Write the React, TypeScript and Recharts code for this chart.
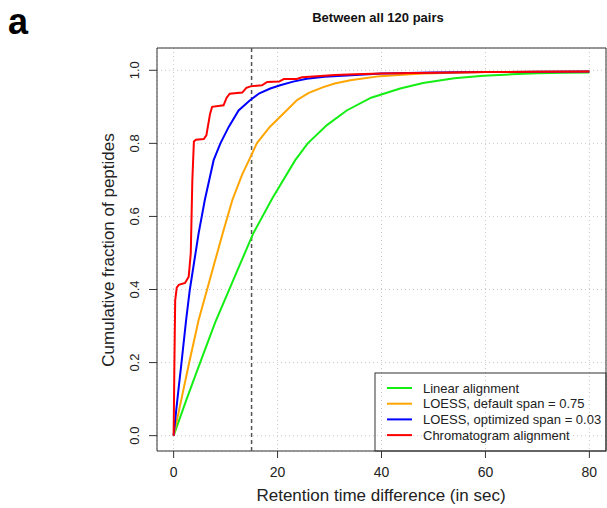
import React from "react";
import {
  LineChart,
  Line,
  XAxis,
  YAxis,
  CartesianGrid,
  ReferenceLine,
  ReferenceArea,
} from "recharts";

// retention time difference (sec) vs cumulative fraction of peptides
const linearT = [0, 2.5, 5.1, 8, 11, 15.3, 19, 23.4, 25.8, 29.5, 33.3, 38, 43.6, 48, 54, 59.6, 65, 70, 75, 80];
const linearP = [0, 0.1, 0.2, 0.31, 0.41, 0.553, 0.65, 0.754, 0.8, 0.85, 0.89, 0.925, 0.95, 0.965, 0.978, 0.985, 0.989, 0.992, 0.993, 0.994];

const loessDefT = [0, 1.5, 3, 4.8, 6.4, 8, 9.5, 11.3, 13.2, 15.1, 16, 18.5, 20.8, 23.7, 26, 28.8, 31, 34, 39.7, 44, 48, 54, 60, 70, 80];
const loessDefP = [0, 0.1, 0.2, 0.316, 0.398, 0.48, 0.557, 0.645, 0.715, 0.772, 0.8, 0.845, 0.877, 0.918, 0.938, 0.954, 0.964, 0.973, 0.984, 0.988, 0.991, 0.993, 0.995, 0.996, 0.997];

const loessOptT = [0, 0.5, 1, 1.5, 2.4, 3.1, 4, 4.8, 6, 7.7, 9, 10.6, 12.5, 14.7, 16.5, 18.6, 20.5, 23, 25.6, 29, 33.3, 40, 50, 60, 70, 80];
const loessOptP = [0, 0.07, 0.135, 0.198, 0.316, 0.398, 0.48, 0.553, 0.645, 0.754, 0.8, 0.845, 0.89, 0.918, 0.937, 0.95, 0.959, 0.969, 0.977, 0.982, 0.986, 0.991, 0.994, 0.995, 0.996, 0.997];

const chromT = [0, 0.15, 0.3, 0.6, 1, 2.2, 2.9, 3.3, 3.6, 3.9, 4.3, 5.8, 6.3, 7, 7.4, 9.6, 10.2, 10.8, 13.2, 14, 14.8, 17, 18, 20.3, 21.2, 23.7, 24.7, 27.6, 31, 35, 40, 50, 60, 70, 80];
const chromP = [0, 0.2, 0.37, 0.405, 0.413, 0.418, 0.435, 0.5, 0.7, 0.805, 0.81, 0.812, 0.822, 0.88, 0.9, 0.904, 0.925, 0.936, 0.939, 0.952, 0.956, 0.959, 0.968, 0.969, 0.976, 0.976, 0.981, 0.984, 0.987, 0.989, 0.991, 0.993, 0.995, 0.996, 0.997];

const seriesNames = [
  "Linear alignment",
  "LOESS, default span = 0.75",
  "LOESS, optimized span = 0.03",
  "Chromatogram alignment",
];
const seriesColors = ["#14ee14", "#ffa500", "#0000ff", "#ff0000"];

const xTicks = [0, 20, 40, 60, 80];
const yTicks = [0, 0.2, 0.4, 0.6, 0.8, 1.0];
const cutoff = 15;

const toPoints = (t: number[], p: number[]) => t.map((v, i) => ({ t: v, p: p[i] }));
const series = [
  toPoints(linearT, linearP),
  toPoints(loessDefT, loessDefP),
  toPoints(loessOptT, loessOptP),
  toPoints(chromT, chromP),
];

const FONT = "'Liberation Sans', Arial, Helvetica, sans-serif";
const X_DOMAIN: [number, number] = [-3.2, 83.2];
const Y_DOMAIN: [number, number] = [-0.042, 1.061];

const XTick = (props: any) => (
  <text x={props.x} y={477} textAnchor="middle" fontSize={14} fill="#222" fontFamily={FONT}>
    {props.payload.value}
  </text>
);

const YTick = (props: any) => (
  <text
    transform={`translate(139, ${props.y}) rotate(-90)`}
    textAnchor="middle"
    fontSize={13}
    fill="#222"
    fontFamily={FONT}
  >
    {Number(props.payload.value).toFixed(1)}
  </text>
);

export default function App() {
  return (
    <div style={{ position: "absolute", left: 0, top: 0, width: 607, height: 508, background: "#fff" }}>
      <LineChart width={607} height={508} margin={{ top: 48, right: 1, bottom: 0, left: 0 }}>
        <CartesianGrid stroke="#c8c8c8" strokeDasharray="1 3" />
        <XAxis
          type="number"
          dataKey="t"
          domain={X_DOMAIN}
          allowDataOverflow
          ticks={xTicks}
          interval={0}
          height={57}
          axisLine={false}
          tickSize={7}
          tickLine={{ stroke: "#333" }}
          tick={<XTick />}
        />
        <YAxis
          type="number"
          dataKey="p"
          domain={Y_DOMAIN}
          allowDataOverflow
          ticks={yTicks}
          interval={0}
          width={157}
          axisLine={false}
          tickSize={8}
          tickLine={{ stroke: "#333" }}
          tick={<YTick />}
        />
        <ReferenceArea
          x1={X_DOMAIN[0]}
          x2={X_DOMAIN[1]}
          y1={Y_DOMAIN[0]}
          y2={Y_DOMAIN[1]}
          fill="none"
          fillOpacity={0}
          stroke="#333"
          strokeWidth={1}
        />
        <ReferenceLine x={cutoff} stroke="#555" strokeWidth={1.5} strokeDasharray="4 3" />
        {series.map((d, i) => (
          <Line
            key={seriesNames[i]}
            data={d}
            dataKey="p"
            name={seriesNames[i]}
            type="linear"
            stroke={seriesColors[i]}
            strokeWidth={2}
            dot={false}
            isAnimationActive={false}
          />
        ))}
        <text x={8} y={34} fontSize={36} fontWeight="bold" fontFamily={FONT} fill="#000">
          a
        </text>
        <text x={378} y={22} textAnchor="middle" fontSize={13} fontWeight="bold" fontFamily={FONT} fill="#111">
          Between all 120 pairs
        </text>
        <text x={381} y={501} textAnchor="middle" fontSize={17} fontFamily={FONT} fill="#222">
          Retention time difference (in sec)
        </text>
        <text
          transform="translate(114, 250) rotate(-90)"
          textAnchor="middle"
          fontSize={17}
          fontFamily={FONT}
          fill="#222"
        >
          Cumulative fraction of peptides
        </text>
        <g>
          <rect x={375} y={373} width={231} height={78} fill="none" stroke="#333" />
          {seriesNames.map((name, i) => (
            <g key={name}>
              <line x1={387} x2={412} y1={388 + i * 15.7} y2={388 + i * 15.7} stroke={seriesColors[i]} strokeWidth={2} />
              <text x={423} y={392.5 + i * 15.7} fontSize={13} fontFamily={FONT} fill="#222">
                {name}
              </text>
            </g>
          ))}
        </g>
      </LineChart>
    </div>
  );
}
